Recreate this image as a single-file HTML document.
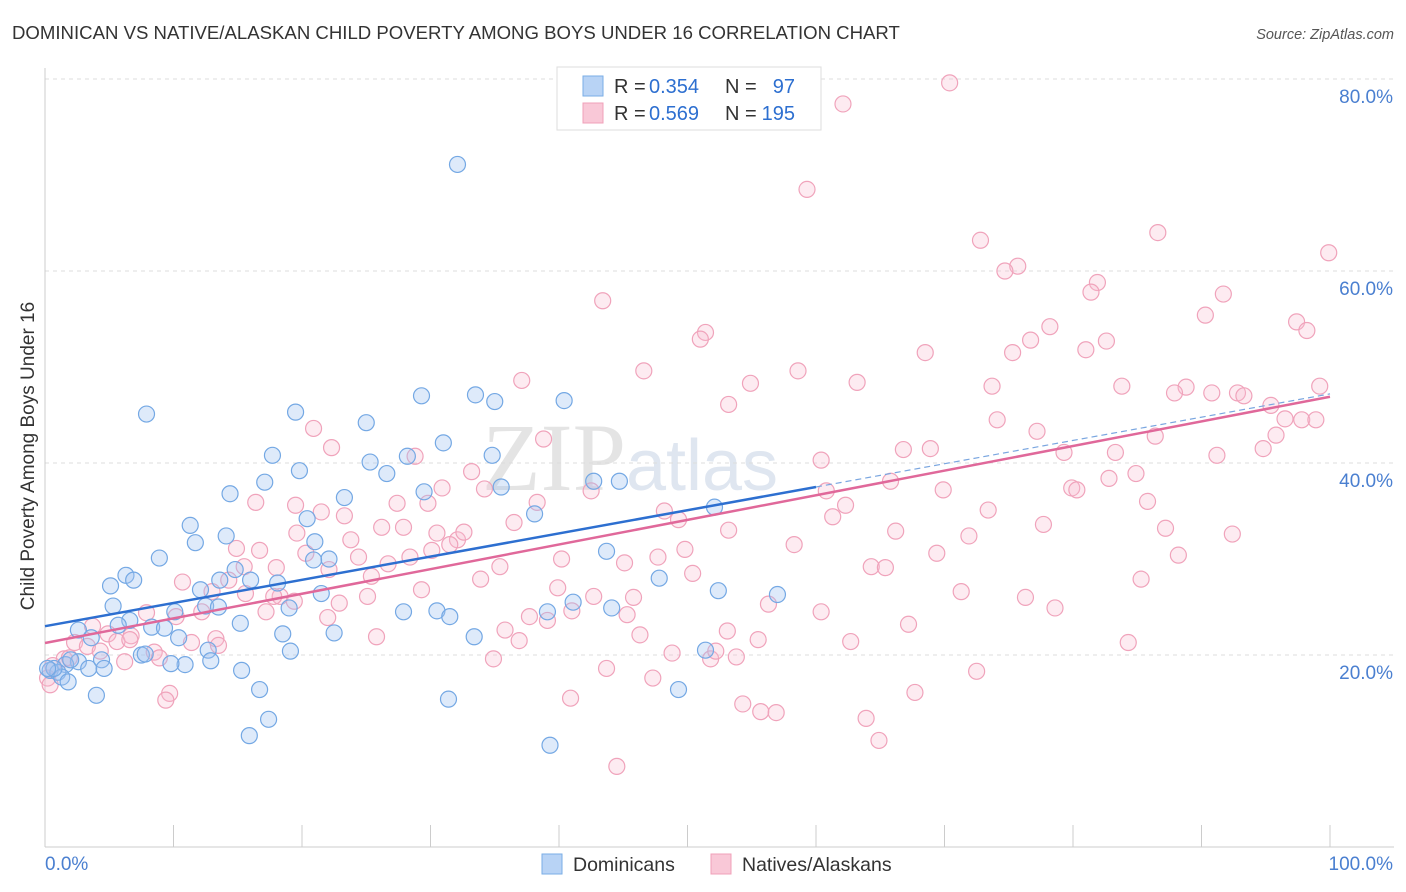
<!DOCTYPE html>
<html><head><meta charset="utf-8">
<style>
body{margin:0;background:#fff;font-family:"Liberation Sans",sans-serif;}
#wrap{position:relative;width:1406px;height:892px;overflow:hidden;}
</style></head>
<body>
<div id="wrap">
<svg id="chart" width="1406" height="892" xmlns="http://www.w3.org/2000/svg">
<text x="12" y="39" font-size="18.6" fill="#333">DOMINICAN VS NATIVE/ALASKAN CHILD POVERTY AMONG BOYS UNDER 16 CORRELATION CHART</text>
<text x="1394" y="39" font-size="14.5" fill="#555" font-style="italic" text-anchor="end">Source: ZipAtlas.com</text>
<text x="630" y="490" font-size="96" font-family="Liberation Serif,serif" fill="#e4e4e4" text-anchor="middle">ZIP<tspan font-family="Liberation Sans,sans-serif" font-size="72" fill="#dfe6f0">atlas</tspan></text>
<text transform="translate(34,456) rotate(-90)" font-size="19" fill="#333" text-anchor="middle">Child Poverty Among Boys Under 16</text>
<g id="grid"></g><g id="axes"></g><g id="pts"></g><g id="lines"></g>
<g>
<rect x="557" y="67" width="264" height="63" fill="#fff" stroke="#ddd"/>
<rect x="583" y="76" width="20" height="20" fill="#b8d3f5" stroke="#7aaee6"/>
<rect x="583" y="103" width="20" height="20" fill="#f9c8d7" stroke="#f0a0b8"/>
<text y="93" font-size="20" fill="#333"><tspan x="614">R =</tspan><tspan x="649" fill="#2d6fd0">0.354</tspan><tspan x="725">N =</tspan><tspan x="795" text-anchor="end" fill="#2d6fd0">97</tspan></text>
<text y="120" font-size="20" fill="#333"><tspan x="614">R =</tspan><tspan x="649" fill="#2d6fd0">0.569</tspan><tspan x="725">N =</tspan><tspan x="795" text-anchor="end" fill="#2d6fd0">195</tspan></text>
</g>
<g>
<rect x="542" y="854" width="20" height="20" fill="#b8d3f5" stroke="#7aaee6"/>
<text x="573" y="871" font-size="19.5" fill="#333">Dominicans</text>
<rect x="711" y="854" width="20" height="20" fill="#f9c8d7" stroke="#f0a0b8"/>
<text x="742" y="871" font-size="19.5" fill="#333">Natives/Alaskans</text>
</g>
</svg>
</div>
<script>
const yTicks=[20,40,60,80];
const yTickLabels=["20.0%","40.0%","60.0%","80.0%"];
const xTicks=[0,10,20,30,40,50,60,70,80,90,100];
const blueX=[32.1,7.9,19.5,25.0,29.3,33.5,35.0,40.4,31.0,34.8,28.2,17.7,25.3,19.8,26.6,17.1,14.4,29.5,23.3,35.5,42.7,44.7,38.1,20.4,11.3,14.1,11.7,8.9,21.0,22.1,20.9,43.7,52.1,6.3,6.9,5.1,14.8,16.0,18.1,12.1,13.6,47.8,52.4,57.0,21.5,5.3,10.1,12.5,13.5,19.0,27.9,30.5,31.5,39.1,41.1,44.1,6.6,5.7,8.3,9.3,15.2,2.6,3.6,10.4,18.5,22.5,33.4,12.7,19.1,7.5,7.8,2.6,1.6,3.4,4.4,4.6,10.9,9.8,12.9,15.3,51.4,0.4,1.0,1.3,1.8,4.0,16.7,49.3,31.4,17.4,15.9,39.3,0.7,0.2,2.0];
const blueY=[71.1,45.1,45.3,44.2,47.0,47.1,46.4,46.5,42.1,40.8,40.7,40.8,40.1,39.2,38.9,38.0,36.8,37.0,36.4,37.5,38.1,38.1,34.7,34.2,33.5,32.4,31.7,30.1,31.8,30.0,29.9,30.8,35.4,28.3,27.8,27.2,28.9,27.8,27.5,26.8,27.8,28.0,26.7,26.3,26.4,25.1,24.5,25.1,25.0,24.9,24.5,24.6,24.0,24.5,25.5,24.9,23.6,23.1,22.9,22.8,23.3,22.6,21.8,21.8,22.2,22.3,21.9,20.5,20.4,20.0,20.1,19.3,19.0,18.6,19.5,18.6,19.0,19.1,19.4,18.4,20.5,18.4,18.2,17.7,17.2,15.8,16.4,16.4,15.4,13.3,11.6,10.6,18.6,18.6,19.5];
const pinkX=[70.4,62.1,59.3,72.8,86.6,99.9,75.7,74.7,81.9,81.4,91.7,43.4,90.3,97.4,98.2,51.4,51.0,78.2,76.7,82.6,68.5,75.3,81.0,46.6,58.6,63.2,54.9,37.1,73.7,83.8,88.8,87.9,90.8,92.8,93.3,95.4,99.2,53.2,74.1,96.5,97.8,98.9,77.2,86.4,95.8,38.8,20.9,22.3,28.8,66.8,68.9,79.3,83.3,94.8,91.2,33.2,34.2,30.9,60.4,65.8,82.8,84.9,79.9,80.3,69.9,16.4,19.5,21.5,23.3,27.4,29.8,38.3,42.5,60.8,62.3,61.3,48.2,49.3,85.8,73.4,77.7,87.2,92.4,19.6,23.8,26.2,27.9,30.5,32.1,32.6,36.5,53.2,66.2,71.9,14.9,16.7,20.3,24.4,28.4,30.1,31.5,40.2,45.1,49.8,47.7,58.3,69.4,88.2,15.5,18.0,22.1,25.4,26.7,35.4,33.9,50.4,64.3,65.4,85.3,10.7,14.3,13.0,15.6,18.3,19.4,22.9,25.1,29.3,39.9,42.7,45.8,71.3,76.3,78.6,7.9,10.2,12.2,17.2,17.8,22.0,37.7,39.1,41.0,45.3,56.3,60.4,67.2,3.7,4.9,5.6,6.7,13.3,25.8,35.8,36.9,46.3,53.1,55.5,62.7,84.3,2.3,3.3,4.3,6.6,8.5,11.4,13.5,48.8,51.8,52.2,53.8,6.2,8.9,34.9,43.7,47.3,72.5,1.5,1.9,0.6,0.2,9.7,9.4,40.9,54.3,55.7,56.9,63.9,67.7,64.9,44.5,0.4];
const pinkY=[79.6,77.4,68.5,63.2,64.0,61.9,60.5,60.0,58.8,57.8,57.6,56.9,55.4,54.7,53.8,53.6,52.9,54.2,52.8,52.7,51.5,51.5,51.8,49.6,49.6,48.4,48.3,48.6,48.0,48.0,47.9,47.3,47.3,47.3,47.0,46.0,48.0,46.1,44.5,44.6,44.5,44.5,43.3,42.8,42.9,42.5,43.6,41.6,40.7,41.4,41.5,41.1,41.1,41.5,40.8,39.1,37.3,37.4,40.3,38.1,38.4,38.9,37.4,37.2,37.2,35.9,35.6,34.9,34.5,35.8,35.8,35.9,37.1,37.1,35.6,34.4,35.0,34.1,36.0,35.1,33.6,33.2,32.6,32.7,32.0,33.3,33.3,32.7,32.0,32.8,33.8,33.0,32.9,32.4,31.1,30.9,30.6,30.2,30.2,30.9,31.5,30.0,29.6,31.0,30.2,31.5,30.6,30.4,29.2,29.1,28.9,28.2,29.5,29.2,27.9,28.5,29.2,29.1,27.9,27.6,27.8,26.6,26.4,26.1,25.6,25.4,26.1,26.8,27.0,26.1,26.0,26.6,26.0,24.9,24.4,24.0,24.5,24.5,26.1,23.9,24.0,23.6,24.6,24.2,25.3,24.5,23.2,23.0,22.2,21.4,22.0,21.7,21.9,22.6,21.5,22.1,22.5,21.6,21.4,21.3,21.3,20.9,20.4,21.6,20.3,21.3,21.0,20.2,19.6,20.4,19.8,19.3,19.7,19.6,18.6,17.6,18.3,19.6,19.7,18.9,17.6,16.0,15.3,15.5,14.9,14.1,14.0,13.4,16.1,11.1,8.4,16.9];
const blueLine=[[0,23.0],[60,37.5]];
const blueDash=[[60,37.5],[100,47.2]];
const pinkLine=[[0,21.25],[100,46.9]];

const NS="http://www.w3.org/2000/svg";
const X0=45,X1=1330,YB=847,PPY=9.6;
const xs=v=>X0+(X1-X0)*v/100;
const ys=v=>YB-v*PPY;
function mk(tag,attrs,parent){const e=document.createElementNS(NS,tag);for(const k in attrs)e.setAttribute(k,attrs[k]);parent.appendChild(e);return e;}
const grid=document.getElementById('grid'),axes=document.getElementById('axes'),pts=document.getElementById('pts'),lines=document.getElementById('lines');
yTicks.forEach((t,i)=>{
  const g=mk('line',{x1:X0,x2:1394,y1:ys(t),y2:ys(t),stroke:'#ddd','stroke-dasharray':'4,4'},grid);
  
  
  const l=mk('text',{x:1393,y:ys(t)+24,'font-size':19,fill:'#4a7fd0','text-anchor':'end'},axes);
  l.textContent=yTickLabels[i];
  
  
});
const ax=mk('line',{x1:X0,x2:X0,y1:68,y2:YB,stroke:'#ccc'},axes);


const bx=mk('line',{x1:X0,x2:1394,y1:YB,y2:YB,stroke:'#ccc'},axes);


xTicks.forEach(t=>{
  const k=mk('line',{x1:xs(t),x2:xs(t),y1:YB-22,y2:YB,stroke:'#ccc'},axes);
  
  
});
const xl0=mk('text',{x:45,y:870,'font-size':19,fill:'#4a7fd0'},axes);xl0.textContent='0.0%';


const xl1=mk('text',{x:1393,y:870,'font-size':19,fill:'#4a7fd0','text-anchor':'end'},axes);xl1.textContent='100.0%';


function drawPts(X,Y,fill,stroke,name){
  X.forEach((x,i)=>{
    const c=mk('circle',{cx:xs(x),cy:ys(Y[i]),r:8,fill:fill,stroke:stroke,'stroke-width':1.2},pts);
    
    
  });
}
drawPts(pinkX,pinkY,'rgba(248,190,210,0.3)','#f0a3bb','native-point');
drawPts(blueX,blueY,'rgba(160,196,240,0.35)','#74a8e4','dominican-point');
function drawLine(p,col,w,dash,name){
  const l=mk('line',{x1:xs(p[0][0]),y1:ys(p[0][1]),x2:xs(p[1][0]),y2:ys(p[1][1]),stroke:col,'stroke-width':w},lines);
  if(dash)l.setAttribute('stroke-dasharray',dash);
  
  
}
drawLine(blueDash,'#7aa6e0',1.2,'6,4','dominican-trend-extension');
drawLine(pinkLine,'#e0689a',2.5,null,'native-trend-line');
drawLine(blueLine,'#2d6fd0',2.5,null,'dominican-trend-line');
</script>
</body></html>
